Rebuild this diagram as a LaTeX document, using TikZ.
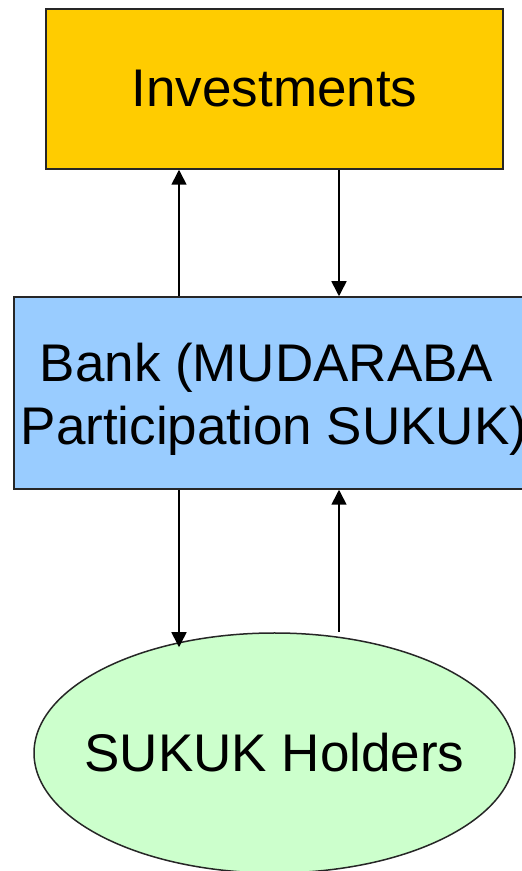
\documentclass[tikz,border=0pt]{standalone}
\usepackage{fontspec}
\setmainfont{Liberation Sans}
\usepackage{tikz}
\usetikzlibrary{arrows.meta,positioning,shapes.geometric,calc}
\usepackage{xcolor}
\definecolor{gold}{HTML}{FFCC00}
\definecolor{skyblue}{HTML}{99CCFF}
\definecolor{mint}{HTML}{CCFFCC}

\begin{document}
\begin{tikzpicture}[x=1pt,y=1pt,
   box/.style={draw=black!85,line width=1.5pt,inner sep=0pt,align=center,
     font=\fontsize{53}{63}\selectfont},
   flow/.style={-{Triangle[length=15pt,width=15pt]},line width=1.6pt}]
  \useasboundingbox (0,0) rectangle (522,871);
  \begin{scope}
  \clip (0,0) rectangle (522,871);
  \node[box,fill=gold,minimum width=457pt,minimum height=160pt] (invest) at (274.5,782) {Investments};
  \node[box,fill=skyblue,minimum width=520pt,minimum height=192pt] (bank) at (274,478)
     {\rule{0pt}{52pt}Bank (MUDARABA\hspace*{15pt}\\Participation SUKUK)};
  \node[box,ellipse,fill=mint,minimum width=481pt,minimum height=240pt] (holders) at (274.5,118)
     {\makebox[0pt]{SUKUK Holders}};
  \end{scope}
  \coordinate (lx) at (179,0);
  \coordinate (rx) at (339,0);
  \draw[flow] (bank.north -| lx) -- (invest.south -| lx);
  \draw[flow] (invest.south -| rx) -- (bank.north -| rx);
  \draw[flow] (bank.south -| lx) -- ($(holders.north -| lx)+(0,-15)$);
  \draw[flow] (holders.north -| rx) -- (bank.south -| rx);
\end{tikzpicture}
\end{document}
